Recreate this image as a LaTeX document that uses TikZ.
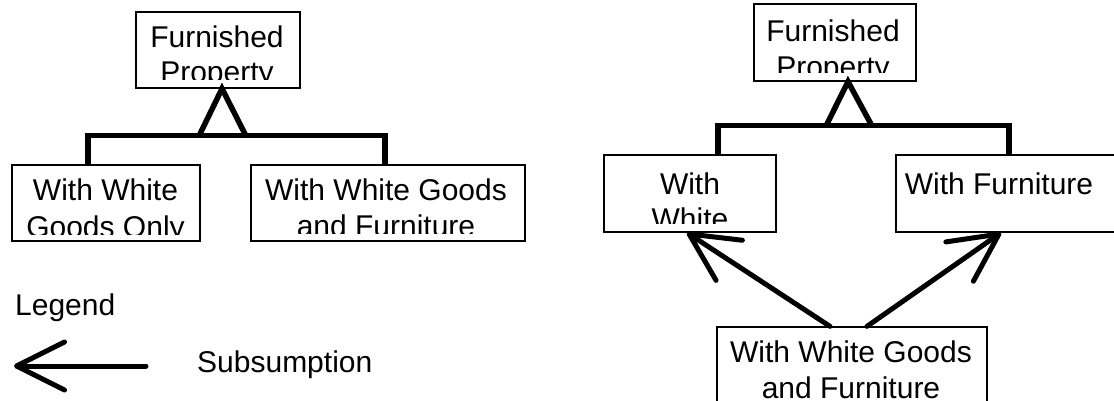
\documentclass[tikz,border=0pt]{standalone}
\usepackage{fontspec}
\setmainfont{Liberation Sans}
\usetikzlibrary{arrows.meta}
\begin{document}
\begin{tikzpicture}[x=1pt,y=-1pt,
  box/.style={draw, line width=1.3pt, inner sep=0pt},
  lbl/.style={font=\fontsize{30}{35}\selectfont, inner sep=0pt, anchor=base},
  link/.style={line width=5.5pt, line join=miter},
  arr/.style={line width=5pt, line cap=round, -{Straight Barb[length=48pt, width=48pt, round]}}]
\useasboundingbox (0,0) rectangle (1114,401);
\clip (0,0) rectangle (1114,401);

% ---------- left diagram ----------
\node[box, minimum width=164pt, minimum height=76pt] (fpL) at (218,50) {};
\node[box, minimum width=188pt, minimum height=76pt] (wwgo) at (106,203) {};
\node[box, minimum width=274pt, minimum height=76pt] (wwgf) at (388,203) {};

\begin{scope}
  \clip (136,12) rectangle (300,80);
  \node[lbl] (fpLa) at (217,47.5) {Furnished};
  \node[lbl] (fpLb) at (217,82.5) {Property};
\end{scope}
\begin{scope}
  \clip (12,165) rectangle (200,234);
  \node[lbl] (wwgoa) at (105.5,200.5) {With White};
  \node[lbl] (wwgob) at (105.5,237.5) {Goods Only};
\end{scope}
\begin{scope}
  \clip (251,165) rectangle (525,233);
  \node[lbl] (wwgfa) at (386,200.5) {With White Goods};
  \node[lbl] (wwgfb) at (386,236.5) {and Furniture};
\end{scope}

\coordinate (apL) at ([xshift=4pt]fpL.south);
\draw[link] (199,136) -- (apL) -- (246,136);
\draw[link] ([xshift=-18pt]wwgo.north) -- ++(0,-29) -| ([xshift=-3pt]wwgf.north);

% ---------- legend ----------
\node[lbl, anchor=base west] (leg) at (15,315.5) {Legend};
\node[lbl, anchor=base west] (sub) at (197,372) {Subsumption};
\coordinate (lgA) at (146,366);
\coordinate (lgB) at (14,366);
\draw[arr] (lgA) -- (lgB);

% ---------- right diagram ----------
\node[box, minimum width=162pt, minimum height=77pt] (fpR) at (835,42.5) {};
\node[box, minimum width=172pt, minimum height=77pt] (ww) at (690,193.5) {};
\node[box, minimum width=234pt, minimum height=77pt] (wf) at (1013,193.5) {};
\node[box, minimum width=270pt, minimum height=76pt] (bw) at (852,365) {};

\begin{scope}
  \clip (754,4) rectangle (916,73);
  \node[lbl] (fpRa) at (833,42) {Furnished};
  \node[lbl] (fpRb) at (833,78) {Property};
\end{scope}
\begin{scope}
  \clip (604,155) rectangle (776,223);
  \node[lbl] (wwa) at (690,194.5) {With};
  \node[lbl] (wwb) at (690,229) {White};
\end{scope}
\node[lbl] (wfa) at (999,194.5) {With Furniture};
\node[lbl] (bwa) at (851,362.5) {With White Goods};
\node[lbl] (bwb) at (851,398.5) {and Furniture};

\coordinate (apR) at ([xshift=13pt]fpR.south);
\draw[link] (826,126) -- (apR) -- (872,126);
\draw[link] ([xshift=28pt]ww.north) -- ++(0,-29) -| ([xshift=-4pt]wf.north);

\draw[arr] ([xshift=-22pt]bw.north) -- ([xshift=-3pt]ww.south);
\draw[arr] ([xshift=15pt]bw.north) -- ([xshift=-12pt]wf.south);
\end{tikzpicture}
\end{document}
